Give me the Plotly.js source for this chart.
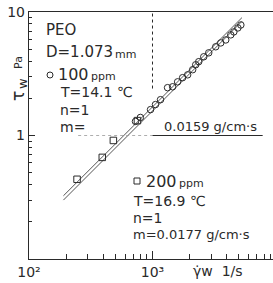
<!DOCTYPE html>
<html>
<head>
<meta charset="utf-8">
<script src="https://cdn.plot.ly/plotly-3.0.1.min.js"></script>
<style>html,body{margin:0;padding:0;overflow:hidden;background:#fff;}#chart{width:276px;height:283px;}</style>
</head>
<body>
<div id="chart"></div>
<script>
// 100 ppm (circles): shear rate γw [1/s], wall shear stress τw [Pa]
const circleX = [728, 798, 964, 1057, 1161, 1324, 1455, 1597, 1754, 1926, 2115, 2238, 2368, 2600, 2853, 3251, 3571, 3920, 4304, 4557, 4913, 5193];
const circleY = [1.30, 1.40, 1.62, 1.78, 1.95, 2.44, 2.48, 2.72, 2.94, 3.10, 3.41, 3.74, 3.96, 4.34, 4.67, 5.23, 5.62, 5.94, 6.53, 6.90, 7.43, 7.85];
// 200 ppm (squares)
const squareX = [245, 392, 482, 755];
const squareY = [0.442, 0.665, 0.912, 1.32];
// fitted lines (n = 1)
const fitX = [190, 5300];
const fit100Y = [0.30, 8.4];
const fit200Y = [0.325, 9.0];
// axis ticks
const xTickVals = [100, 1000, 10000];
const xTickText = ["10²", "10³", "10⁴"];
const xMinor = [200, 300, 400, 500, 600, 700, 800, 900, 2000, 3000, 4000, 5000, 6000, 7000, 8000, 9000];
const yTickVals = [1, 10];
const yTickText = ["1", "10"];
const yMinor = [0.2, 0.3, 0.4, 0.5, 0.6, 0.7, 0.8, 0.9, 2, 3, 4, 5, 6, 7, 8, 9];

const ink = "#2a2a2a";
const F = "DejaVu Sans, Liberation Sans, sans-serif";

const traces = [
  {x: fitX, y: fit100Y, mode: "lines", line: {color: ink, width: 0.8}, hoverinfo: "skip"},
  {x: fitX, y: fit200Y, mode: "lines", line: {color: ink, width: 0.8}, hoverinfo: "skip"},
  {x: circleX, y: circleY, mode: "markers",
   marker: {symbol: "circle-open", size: 6.5, color: ink, line: {width: 1, color: ink}}},
  {x: squareX, y: squareY, mode: "markers",
   marker: {symbol: "square-open", size: 6.5, color: ink, line: {width: 1, color: ink}}}
];

function px(x){ return (x - 29) / 247; }
function py(y){ return (259 - y) / 247; }
function ann(text, x, y, size, anchor, angle){
  return {text: text, xref: "paper", yref: "paper", x: px(x), y: py(y),
          xanchor: anchor || "left", yanchor: "middle", showarrow: false,
          textangle: angle || 0,
          font: {family: F, size: size, color: ink}};
}

const layout = {
  width: 276, height: 283,
  margin: {l: 29, r: 0, t: 12, b: 24},
  paper_bgcolor: "#fff", plot_bgcolor: "#fff",
  showlegend: false,
  font: {family: F, color: ink},
  xaxis: {
    type: "log", range: [2, 4], showgrid: false, zeroline: false,
    showline: true, mirror: true, linecolor: ink, linewidth: 1.2,
    ticks: "inside", ticklen: 8, tickcolor: ink, tickwidth: 1,
    tickmode: "array", tickvals: xTickVals, ticktext: xTickText,
    tickfont: {family: F, size: 14, color: ink},
    minor: {tickmode: "array", tickvals: xMinor, ticks: "inside", ticklen: 5, tickcolor: ink, tickwidth: 1, showgrid: false}
  },
  yaxis: {
    type: "log", range: [-1, 1], showgrid: false, zeroline: false,
    showline: true, linecolor: ink, linewidth: 1.2,
    ticks: "inside", ticklen: 6, tickcolor: ink, tickwidth: 1,
    tickmode: "array", tickvals: yTickVals, ticktext: yTickText,
    tickfont: {family: F, size: 14, color: ink},
    minor: {tickmode: "array", tickvals: yMinor, ticks: "inside", ticklen: 3, tickcolor: ink, tickwidth: 1, showgrid: false}
  },
  shapes: [
    {type: "line", xref: "x", yref: "y", x0: 1000, x1: 1000, y0: 2.4, y1: 10,
     line: {color: ink, width: 1, dash: "dot"}},
    {type: "line", xref: "x", yref: "y", x0: 250, x1: 1000, y0: 1, y1: 1,
     line: {color: "#999", width: 0.8, dash: "dot"}},
    {type: "line", xref: "x", yref: "y", x0: 1000, x1: 7800, y0: 1, y1: 1,
     line: {color: ink, width: 1}},
    {type: "circle", xref: "paper", yref: "paper", x0: px(47), x1: px(53), y0: py(78), y1: py(72),
     line: {color: ink, width: 1}},
    {type: "rect", xref: "paper", yref: "paper", x0: px(134), x1: px(140), y0: py(184), y1: py(178),
     line: {color: ink, width: 1}}
  ],
  annotations: [
    ann("PEO", 44, 30, 15),
    ann("D=1.073", 44, 52, 15),
    ann("mm", 113, 54, 11),
    ann("100", 56, 74, 16),
    ann("ppm", 89, 76, 11),
    ann("T=14.1 ℃", 58, 92, 14),
    ann("n=1", 58, 110, 14),
    ann("m=", 58, 127, 14),
    ann("0.0159 g/cm·s", 162, 127, 13),
    ann("200", 144, 181, 16),
    ann("ppm", 177, 183, 11),
    ann("T=16.9 ℃", 131, 201, 14),
    ann("n=1", 131, 218, 14),
    ann("m=0.0177 g/cm·s", 131, 234, 13),
    ann("γ̇w  1/s", 218, 271, 14, "center"),
    ann("τ", 18, 96, 17, "center", -90),
    ann("w", 22, 84, 13, "center", -90),
    ann("Pa", 19, 63, 11, "center", -90)
  ]
};

Plotly.newPlot("chart", traces, layout, {displayModeBar: false, staticPlot: true});
</script>
</body>
</html>
